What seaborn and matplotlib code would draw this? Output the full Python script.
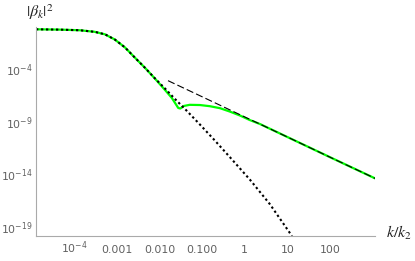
import numpy as np
import matplotlib
matplotlib.use("Agg")
import matplotlib.pyplot as plt
import seaborn as sns
from matplotlib.ticker import FixedLocator, LogLocator, NullFormatter

# values, as log10(k/k2) and log10(|beta_k|^2)
dot_logk = [-4.90, -4.34, -3.87, -3.52, -3.28, -3.05, -2.81, -2.58, -2.34,
            -2.11, -1.87, -1.64, -1.36, -1.05, -0.70, -0.35, 0.12, 0.59, 1.11]
dot_logy = [-0.22, -0.25, -0.31, -0.46, -0.70, -1.19, -1.95, -2.91, -3.89,
            -4.88, -5.86, -6.84, -7.98, -9.29, -10.81, -12.38, -14.52, -16.86, -19.90]

green_logk = [-4.90, -4.34, -3.87, -3.52, -3.28, -3.05, -2.81, -2.58, -2.34,
              -2.11, -1.87, -1.71, -1.62, -1.56, -1.51, -1.43, -1.29, -1.05,
              -0.82, -0.58, -0.35, -0.11, 0.12, 0.36, 1.0, 2.0, 3.06]
green_logy = [-0.22, -0.25, -0.31, -0.46, -0.70, -1.19, -1.95, -2.91, -3.89,
              -4.90, -6.00, -6.76, -7.33, -7.71, -7.76, -7.52, -7.41, -7.43,
              -7.54, -7.73, -8.05, -8.43, -8.86, -9.24, -10.47, -12.39, -14.41]

dash_logk = [-1.80, -1.0, 0.0, 1.0, 2.0, 3.06]
dash_logy = [-5.11, -6.64, -8.56, -10.47, -12.39, -14.41]

xtick_vals = [1e-4, 1e-3, 1e-2, 1e-1, 1, 10, 100]
xtick_labels = ["$10^{-4}$", "0.001", "0.010", "0.100", "1", "10", "100"]
ytick_vals = [1e-4, 1e-9, 1e-14, 1e-19]
ytick_labels = ["$10^{-4}$", "$10^{-9}$", "$10^{-14}$", "$10^{-19}$"]

sns.set_style("white")
plt.rcParams['font.family'] = ['DejaVu Sans']

fig = plt.figure(figsize=(4.15, 2.61), dpi=100)
ax = fig.add_axes([36 / 415, 25 / 261, 339 / 415, 209 / 261])

k_green = 10.0 ** np.array(green_logk)
b_green = 10.0 ** np.array(green_logy)
k_dash = 10.0 ** np.array(dash_logk)
b_dash = 10.0 ** np.array(dash_logy)
k_dot = 10.0 ** np.array(dot_logk)
b_dot = 10.0 ** np.array(dot_logy)

sns.lineplot(x=k_green, y=b_green, ax=ax, color="#00ff00", linewidth=1.6)
sns.lineplot(x=k_dash, y=b_dash, ax=ax, color="black", linewidth=0.8,
             linestyle=(0, (6.5, 2.8)))
sns.lineplot(x=k_dot, y=b_dot, ax=ax, color="black", linewidth=1.5,
             linestyle=(0, (1.1, 1.3)))

ax.set_xscale("log")
ax.set_yscale("log")
ax.set_xlim(10 ** -4.90, 10 ** 3.06)
ax.set_ylim(10 ** -19.9, 1.0)

ax.xaxis.set_major_locator(FixedLocator(xtick_vals))
ax.set_xticklabels(xtick_labels)
ax.xaxis.set_minor_locator(LogLocator(base=10, subs=np.arange(2, 10), numticks=100))
ax.xaxis.set_minor_formatter(NullFormatter())

ax.yaxis.set_major_locator(FixedLocator(ytick_vals))
ax.set_yticklabels(ytick_labels)
ymin = [10.0 ** e for e in range(-20, 1) if e not in (-4, -9, -14, -19)]
ax.yaxis.set_minor_locator(FixedLocator(ymin))
ax.yaxis.set_minor_formatter(NullFormatter())

for s in ["top", "right"]:
    ax.spines[s].set_visible(False)
for s in ["left", "bottom"]:
    ax.spines[s].set_color("#aaaaaa")
    ax.spines[s].set_linewidth(0.8)

ax.tick_params(which="both", direction="in", color="#aaaaaa", labelcolor="#606060",
               labelsize=7.8)
ax.tick_params(which="major", length=3.5, width=0.6)
ax.tick_params(which="minor", length=1.8, width=0.5)
ax.tick_params(axis="x", pad=12)
ax.tick_params(axis="y", pad=2.5)
for lbl in ax.get_xticklabels():
    lbl.set_verticalalignment("baseline")
ax.set_xlabel("")
ax.set_ylabel("")

fig.text(386 / 415, 1 - 233 / 261, r"$k/k_2$", ha="left", va="center",
         fontsize=11.5, math_fontfamily="stix", color="#222222")
fig.text(40 / 415, 1 - 12 / 261, r"$|\beta_k|^2$", ha="center", va="center",
         fontsize=11.5, math_fontfamily="stix", color="#222222")

fig.savefig("out.png", dpi=100)
